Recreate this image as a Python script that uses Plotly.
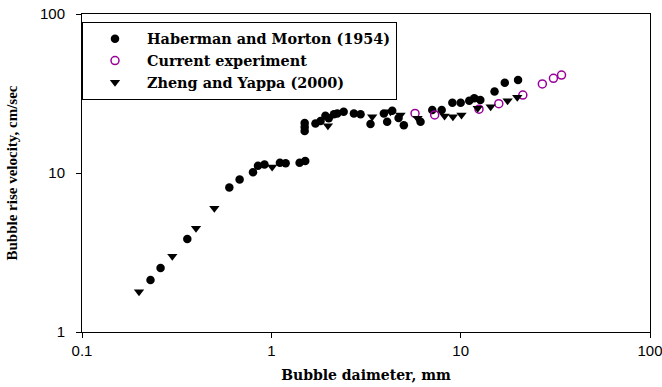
import plotly.graph_objects as go

# Haberman and Morton (1954): bubble diameter (mm) vs rise velocity (cm/s)
haberman_d = [0.23, 0.26, 0.36, 0.60, 0.68, 0.80, 0.85, 0.92, 1.11, 1.19, 1.41, 1.51,
              1.50, 1.50, 1.50, 1.71, 1.82, 1.93, 2.01, 2.14, 2.23, 2.41, 2.73, 2.96,
              3.34, 3.93, 4.09, 4.35, 4.70, 5.01, 6.14, 7.08, 7.94, 9.04, 10.0, 11.1,
              11.8, 12.7, 15.1, 17.1, 20.1]
haberman_v = [2.12, 2.53, 3.85, 8.1, 9.1, 10.1, 11.1, 11.3, 11.6, 11.5, 11.6, 11.9,
              20.6, 19.5, 18.4, 20.5, 21.2, 22.9, 22.1, 23.4, 23.7, 24.3, 23.7, 23.4,
              20.3, 23.7, 21.0, 24.6, 22.2, 20.0, 21.0, 24.9, 24.9, 27.7, 27.7, 28.5,
              29.5, 28.8, 32.5, 37.0, 38.5]

# Current experiment
current_d = [5.74, 7.29, 12.5, 15.9, 21.3, 27.0, 30.9, 34.1]
current_v = [23.7, 23.2, 25.2, 27.3, 30.9, 36.3, 39.4, 41.3]

# Zheng and Yappa (2000)
zheng_d = [0.20, 0.30, 0.40, 0.50, 1.01, 1.99, 3.41, 4.26, 4.81, 5.92, 8.22, 9.1,
           10.1, 12.3, 14.4, 17.7, 19.9]
zheng_v = [1.79, 3.0, 4.5, 6.0, 10.9, 19.8, 22.6, 24.3, 23.2, 22.1, 22.8, 22.6,
           23.2, 25.5, 26.1, 28.5, 29.9]

x_ticks = [0.1, 1, 10, 100]
x_tick_text = ["0.1", "1", "10", "100"]
y_ticks = [1, 10, 100]
y_tick_text = ["1", "10", "100"]

fig = go.Figure()
fig.add_trace(go.Scatter(
    x=haberman_d, y=haberman_v, mode="markers", name="Haberman and Morton (1954)",
    marker=dict(symbol="circle", size=8.5, color="black", line=dict(width=0)),
))
fig.add_trace(go.Scatter(
    x=current_d, y=current_v, mode="markers", name="Current experiment",
    marker=dict(symbol="circle-open", size=8, color="#990099", line=dict(width=1.5)),
))
fig.add_trace(go.Scatter(
    x=zheng_d, y=zheng_v, mode="markers", name="Zheng and Yappa (2000)",
    marker=dict(symbol="triangle-down", size=9, color="black", line=dict(width=0)),
))

tick_font = dict(family="Liberation Sans, Arial", size=15, color="black")

fig.update_layout(
    width=662, height=387,
    margin=dict(l=82, r=12, t=14, b=55),
    paper_bgcolor="white", plot_bgcolor="white",
    showlegend=True,
    legend=dict(
        x=0, y=0.975, xanchor="left", yanchor="top",
        bgcolor="white", bordercolor="black", borderwidth=1,
        font=dict(family="DejaVu Serif", size=14.4, color="black", weight="bold"),
        itemwidth=54, tracegroupgap=0,
    ),
    xaxis=dict(
        type="log", range=[-1, 2], automargin=False,
        tickmode="array", tickvals=x_ticks, ticktext=x_tick_text,
        ticks="outside", ticklen=5, tickcolor="black", tickfont=tick_font,
        ticklabeloverflow="allow",
        showline=True, linecolor="black", linewidth=1, mirror=True,
        showgrid=False, zeroline=False,
        title=dict(text="Bubble daimeter, mm", standoff=12,
                   font=dict(family="DejaVu Serif", size=14, color="black", weight="bold")),
    ),
    yaxis=dict(
        type="log", range=[0, 2], automargin=False,
        tickmode="array", tickvals=y_ticks, ticktext=y_tick_text,
        ticks="outside", ticklen=5, tickcolor="black", tickfont=tick_font,
        ticklabelstandoff=8, ticklabeloverflow="allow",
        showline=True, linecolor="black", linewidth=1, mirror=True,
        showgrid=False, zeroline=False,
        title=dict(text="Bubble rise velocity, cm/sec", standoff=18,
                   font=dict(family="Liberation Serif, Times New Roman", size=15,
                             color="black", weight="bold")),
    ),
)

fig.write_html("out.html")
